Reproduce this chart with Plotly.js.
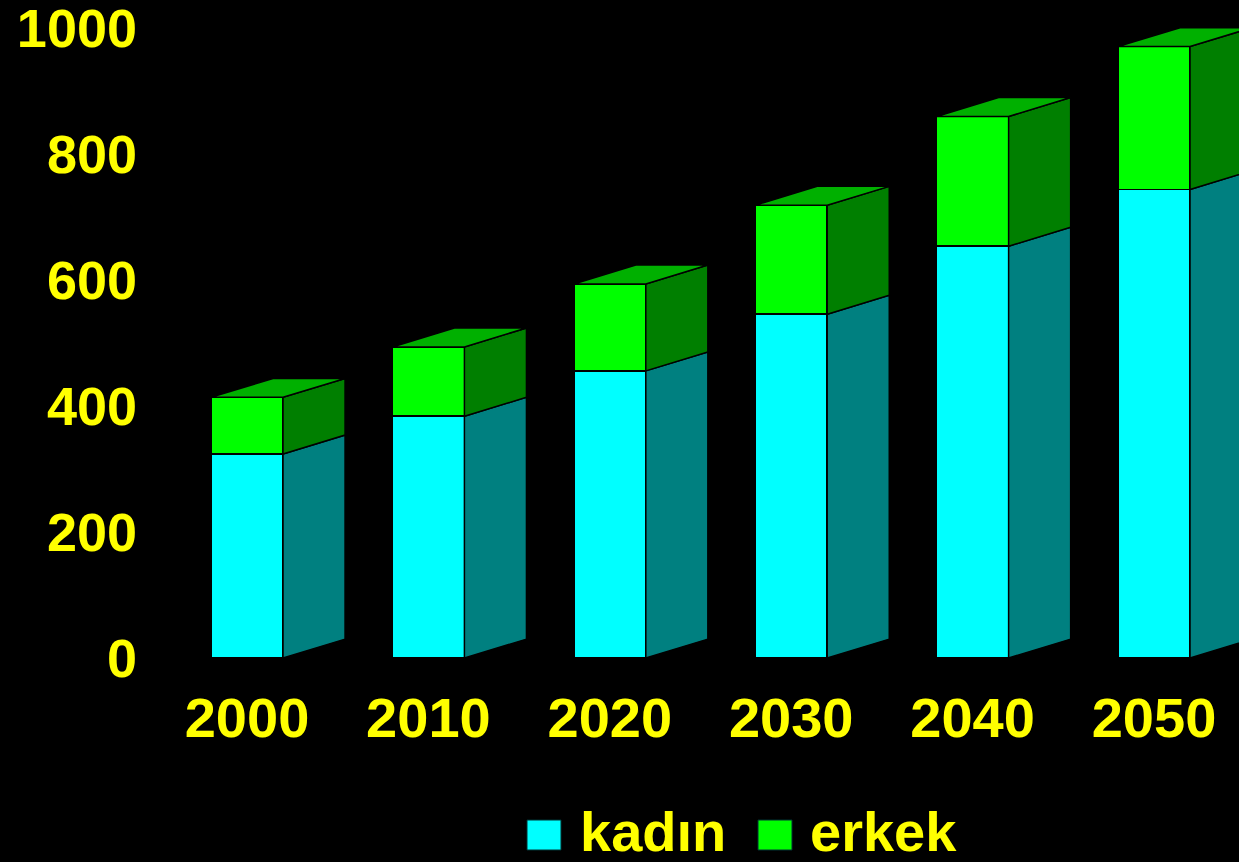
<!DOCTYPE html>
<html>
<head>
<meta charset="utf-8">
<script src="https://cdn.plot.ly/plotly-3.0.1.min.js"></script>
<style>html,body{margin:0;padding:0;background:#000;}#chart{width:1239px;height:862px;}</style>
</head>
<body>
<div id="chart"></div>
<script>
// Data
const years = ['2000', '2010', '2020', '2030', '2040', '2050'];
const kadin = [324, 384, 456, 546, 654, 744];
const erkek = [90, 110, 138, 173, 206, 227];
const yTicks = [0, 200, 400, 600, 800, 1000];
const seriesNames = ['kadın', 'erkek'];

// Styling / geometry
const W = 1239, H = 862;
const M = {l: 150, r: 0, t: 22, b: 204};
const barW = 0.397;      // category units
const depthX = 0.342;    // category units
const depthY = 30;       // value units
const FONT = 'Liberation Sans, Arial, sans-serif';
const YEL = '#ffff00';
const C_KF = '#00ffff', C_KS = '#008080';
const C_EF = '#00ff00', C_ES = '#007f00', C_ET = '#00b000';
const EDGE = {color: '#000000', width: 1.5};

const idx = years.map((_, i) => i);

// side & top polygons, built from the data
function polys(lowerArr, upperArr) {
  const xs = [], ys = [];
  idx.forEach(i => {
    const xr = i + barW / 2;
    const lo = lowerArr[i], hi = upperArr[i];
    xs.push(xr, xr + depthX, xr + depthX, xr, xr, null);
    ys.push(lo, lo + depthY, hi + depthY, hi, lo, null);
  });
  return {x: xs, y: ys};
}
const zeros = idx.map(() => 0);
const totals = idx.map(i => kadin[i] + erkek[i]);
const kSide = polys(zeros, kadin);
const eSide = polys(kadin, totals);
const topX = [], topY = [];
idx.forEach(i => {
  const xl = i - barW / 2, xr = i + barW / 2, t = totals[i];
  topX.push(xl, xl + depthX, xr + depthX, xr, xl, null);
  topY.push(t, t + depthY, t + depthY, t, t, null);
});

const traces = [
  {type: 'bar', x: idx, y: kadin, name: seriesNames[0], width: barW,
   marker: {color: C_KF, line: EDGE}, showlegend: false, hoverinfo: 'skip'},
  {type: 'bar', x: idx, y: erkek, name: seriesNames[1], width: barW,
   marker: {color: C_EF, line: EDGE}, showlegend: false, hoverinfo: 'skip'},
  {type: 'scatter', mode: 'lines', x: kSide.x, y: kSide.y, fill: 'toself',
   fillcolor: C_KS, line: EDGE, connectgaps: false, showlegend: false, hoverinfo: 'skip'},
  {type: 'scatter', mode: 'lines', x: eSide.x, y: eSide.y, fill: 'toself',
   fillcolor: C_ES, line: EDGE, connectgaps: false, showlegend: false, hoverinfo: 'skip'},
  {type: 'scatter', mode: 'lines', x: topX, y: topY, fill: 'toself',
   fillcolor: C_ET, line: EDGE, connectgaps: false, showlegend: false, hoverinfo: 'skip'}
];

// axis geometry
const plotW = W - M.l - M.r, plotH = H - M.t - M.b;
const pxPerCat = 181.4;
const x0 = -(247 - M.l) / pxPerCat;
const x1 = x0 + plotW / pxPerCat;

// manual legend (pixel -> paper)
const px2x = p => (p - M.l) / plotW;
const py2y = p => (H - M.b - p) / plotH;
const legendItems = [
  {sq: 527, tx: 578, color: C_KF, label: seriesNames[0]},
  {sq: 758, tx: 808, color: C_EF, label: seriesNames[1]}
];
const shapes = legendItems.map(it => ({
  type: 'rect', xref: 'paper', yref: 'paper',
  x0: px2x(it.sq), x1: px2x(it.sq + 34), y0: py2y(850), y1: py2y(820),
  fillcolor: it.color, line: {color: '#003333', width: 1}
}));
const annotations = legendItems.map(it => ({
  xref: 'paper', yref: 'paper', x: px2x(it.tx), y: py2y(831),
  xanchor: 'left', yanchor: 'middle', showarrow: false,
  text: '<b>' + it.label + '</b>', font: {family: FONT, size: 56, color: YEL}
}));

const layout = {
  width: W, height: H,
  paper_bgcolor: '#000000', plot_bgcolor: '#000000',
  margin: M,
  barmode: 'stack',
  showlegend: false,
  xaxis: {range: [x0, x1], tickvals: idx, ticktext: years.map(y => '<b>' + y + '</b>'),
          showgrid: false, zeroline: false, showline: false, ticks: '',
          ticklabelstandoff: 22, ticklabeloverflow: 'allow',
          tickfont: {family: FONT, size: 56, color: YEL}},
  yaxis: {range: [0, 1010], tickvals: yTicks, ticktext: yTicks.map(v => '<b>' + v + '</b>'),
          showgrid: false, zeroline: false, showline: false, ticks: '',
          ticklabelstandoff: 12, ticklabeloverflow: 'allow',
          tickfont: {family: FONT, size: 54, color: YEL}},
  shapes: shapes,
  annotations: annotations
};

Plotly.newPlot('chart', traces, layout, {staticPlot: true});
</script>
</body>
</html>
